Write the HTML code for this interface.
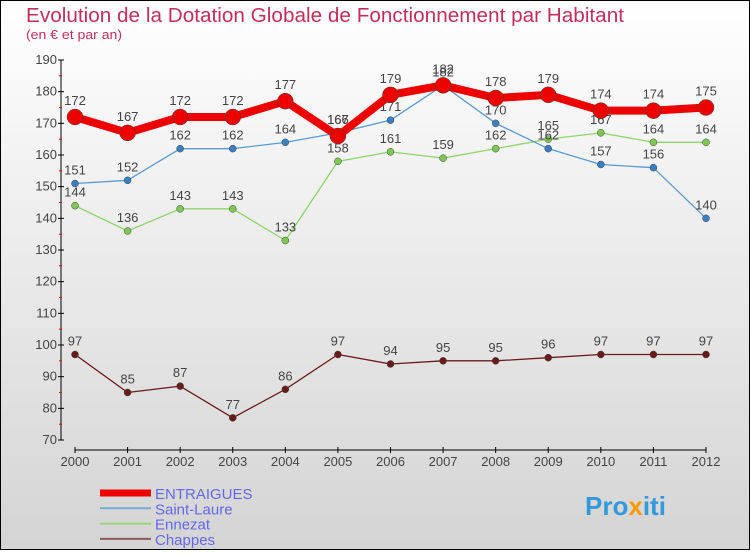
<!DOCTYPE html>
<html><head><meta charset="utf-8"><style>
html,body{margin:0;padding:0}
body{width:750px;height:550px;overflow:hidden;font-family:"Liberation Sans",sans-serif}
svg text{font-family:"Liberation Sans",sans-serif}
</style></head><body>
<svg id="chart" width="750" height="550" xmlns="http://www.w3.org/2000/svg">
<defs><linearGradient id="bg" x1="0" y1="0" x2="0" y2="1"><stop offset="0" stop-color="#ffffff"/><stop offset="1" stop-color="#d4d4d4"/></linearGradient></defs>
<rect x="0.5" y="0.5" width="749" height="549" fill="url(#bg)" stroke="#000"/>
<text x="26" y="22" font-size="20" fill="#c0305a" textLength="598" lengthAdjust="spacingAndGlyphs">Evolution de la Dotation Globale de Fonctionnement par Habitant</text>
<text x="26" y="39" font-size="13" fill="#c0305a" textLength="96" lengthAdjust="spacingAndGlyphs">(en € et par an)</text>
<g id="axes"></g><g id="series"></g><g id="legend"></g>
<text x="585" y="515" font-size="26" font-weight="bold" fill="#3399dd">Pro<tspan fill="#ff9900">x</tspan>iti</text>
</svg>
<script>
const years=["2000","2001","2002","2003","2004","2005","2006","2007","2008","2009","2010","2011","2012"];
const entraigues=[172,167,172,172,177,166,179,182,178,179,174,174,175];
const saintLaure=[151,152,162,162,164,167,171,182,170,162,157,156,140];
const ennezat=[144,136,143,143,133,158,161,159,162,165,167,164,164];
const chappes=[97,85,87,77,86,97,94,95,95,96,97,97,97];
const yTicks=[70,80,90,100,110,120,130,140,150,160,170,180,190];
const seriesNames=["ENTRAIGUES","Saint-Laure","Ennezat","Chappes"];
const NS="http://www.w3.org/2000/svg";
function X(i){return 75+i*(706-75)/(years.length-1);}
function Y(v){return 440-(v-70)*(380/120);}
function mk(t,a,p){const e=document.createElementNS(NS,t);for(const k in a)e.setAttribute(k,a[k]);p.appendChild(e);return e;}
const ax=document.getElementById('axes');
const yl=mk('line',{x1:61,y1:60,x2:61,y2:440,stroke:'#000'},ax);


yTicks.forEach(v=>{
 mk('line',{x1:58,y1:Y(v),x2:64,y2:Y(v),stroke:'#000'},ax);
 if(v<190)mk('line',{x1:59,y1:Y(v+5),x2:62,y2:Y(v+5),stroke:'#e00'},ax);
 const t=mk('text',{x:57,y:Y(v)+4,'font-size':13,fill:'#444','text-anchor':'end'},ax);t.textContent=v;
 
 
});
const xl=mk('line',{x1:75,y1:450,x2:706,y2:450,stroke:'#000'},ax);


years.forEach((y,i)=>{
 mk('line',{x1:X(i),y1:447,x2:X(i),y2:453,stroke:'#000'},ax);
 const t=mk('text',{x:X(i),y:466,'font-size':13,fill:'#444','text-anchor':'middle'},ax);t.textContent=y;
 
 
});
const sg=document.getElementById('series');
const defs=[[chappes,'#6b1a1a','#6b1a1a',1.3,3.5,'chappes'],[ennezat,'#8ed46a','#7cc850',1.3,3.5,'ennezat'],[saintLaure,'#5a9ad0','#3a80c0',1.3,3.5,'saint-laure'],[entraigues,'#ee0000','#ee0000',8,8,'entraigues']];
defs.forEach(([d,c,dc,w,r,n])=>{
 const p=mk('polyline',{points:d.map((v,i)=>X(i)+','+Y(v)).join(' '),fill:'none',stroke:c,'stroke-width':w,'stroke-linejoin':'round'},sg);
 
 
 d.forEach((v,i)=>{
  const m=mk('circle',{cx:X(i),cy:Y(v),r:r,fill:dc,stroke:'#444','stroke-width':0.5},sg);
  
  
  const t=mk('text',{x:X(i),y:Y(v)-(r>5?12:9),'font-size':13,fill:'#444','text-anchor':'middle'},sg);t.textContent=v;
  
  
 });
});
const lg=document.getElementById('legend');
const lc=[['#ee0000',7],['#7aaad0',2],['#9ed47e',2],['#8a5a5a',2]];
seriesNames.forEach((s,i)=>{
 const y=493+i*15.3;
 const l=mk('line',{x1:100,y1:y,x2:151,y2:y,stroke:lc[i][0],'stroke-width':lc[i][1]},lg);
 
 
 const t=mk('text',{x:155,y:y+6,'font-size':15,fill:'#6666ee'},lg);t.textContent=s;
 
 
});
</script>
</body></html>
